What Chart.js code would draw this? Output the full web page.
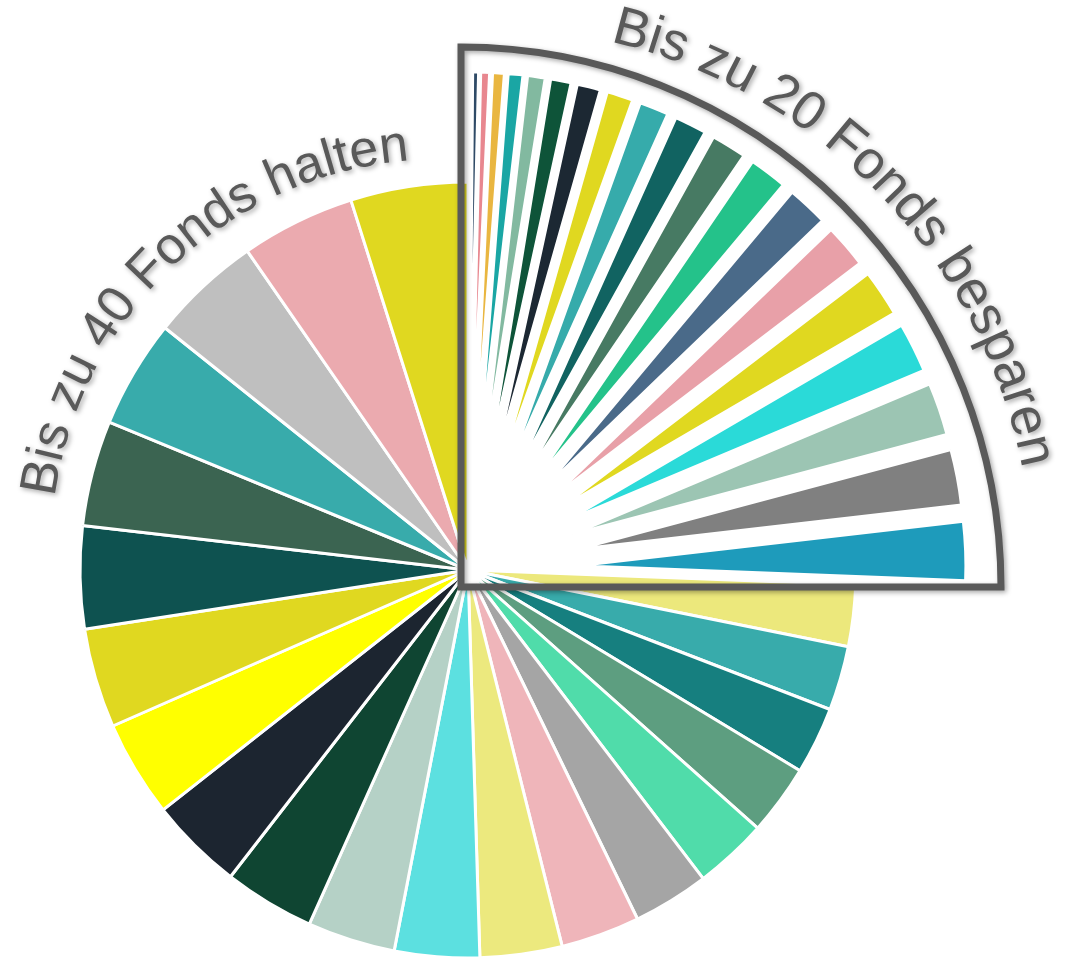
<!DOCTYPE html>
<html lang="de">
<head>
<meta charset="utf-8">
<title>Fonds besparen und halten</title>
<script src="https://cdn.jsdelivr.net/npm/chart.js@4.4.1/dist/chart.umd.min.js"></script>
<style>
  html, body { margin: 0; padding: 0; background: #fff; }
  #wrap { width: 1066px; height: 959px; position: relative; }
</style>
</head>
<body>
<div id="wrap"><canvas id="chart"></canvas></div>
<script>
// besparte Fonds: oberes rechtes Viertel, im Uhrzeigersinn ab 12 Uhr
const sparFonds = [1, 2, 3, 4, 5, 6, 7, 8, 9, 10, 11, 12, 13, 14, 15, 16, 17, 18, 19, 20];
const sparFarben = ['#1c2833', '#2f4a66', '#e8878f', '#e9b640', '#1aa6a4', '#82b9a0', '#0e5439',
  '#1c2833', '#e0d820', '#36abab', '#116361', '#477a63', '#24c28a', '#4a6a89', '#e8a0a8',
  '#e0d820', '#2adad8', '#9cc5b3', '#808080', '#1e9bbb'];

// gehaltene Fonds: ab 3 Uhr weiter im Uhrzeigersinn
const haltFonds = [21, 22, 23, 24, 25, 26, 27, 28, 29, 30, 31, 32, 33, 34, 35, 36, 37, 38, 39, 40];
const haltFarben = ['#ece87c', '#38abab', '#167f7f', '#5d9e80', '#50dcaa', '#a5a5a5', '#efb5ba',
  '#ece97e', '#5ce0e0', '#b5d1c6', '#0f4532', '#1c2530', '#ffff00', '#e0d820', '#0e5250',
  '#3b6451', '#38abab', '#bfbfbf', '#ebaaaf', '#e0d820'];

const titelSpar = 'Bis zu 20 Fonds besparen';
const titelHalt = 'Bis zu 40 Fonds halten';

const werte = sparFonds.concat(haltFonds);
const farben = sparFarben.concat(haltFarben);
const labels = werte.map((v, i) => 'Fonds ' + (i + 1));

// die besparten Stuecke nach aussen ruecken
const explodePlugin = {
    id: 'explode',
    afterDatasetUpdate(chart, args) {
        const arcs = chart.getDatasetMeta(args.index).data;
        for (let i = 0; i < sparFonds.length; i++) {
            const arc = arcs[i];
            const mid = (arc.startAngle + arc.endAngle) / 2;
            arc.x += Math.cos(mid) * 110;
            arc.y += Math.sin(mid) * 110;
        }
    }
};

function arcText(ctx, text, cx, cy, r, midDeg) {
    let total = 0;
    for (const ch of text) total += ctx.measureText(ch).width;
    let a = midDeg * Math.PI / 180 - total / r / 2;
    for (const ch of text) {
        const w = ctx.measureText(ch).width;
        const ang = a + w / 2 / r;
        ctx.save();
        ctx.translate(cx + r * Math.cos(ang), cy + r * Math.sin(ang));
        ctx.rotate(ang + Math.PI / 2);
        ctx.fillText(ch, 0, 0);
        ctx.restore();
        a += w / r;
    }
}

const decoPlugin = {
    id: 'deco',
    afterDraw(chart) {
        const ctx = chart.ctx;
        const area = chart.chartArea;
        const cx = (area.left + area.right) / 2;
        const cy = (area.top + area.bottom) / 2;

        ctx.save();
        ctx.shadowColor = 'rgba(0, 0, 0, 0.35)';
        ctx.shadowBlur = 5;
        ctx.shadowOffsetX = 2;
        ctx.shadowOffsetY = 2;

        // Rahmen um das besparte Viertel
        const fx = cx - 7, fy = cy + 17, fr = 540;
        ctx.strokeStyle = '#595959';
        ctx.lineWidth = 7;
        ctx.lineJoin = 'miter';
        ctx.beginPath();
        ctx.moveTo(fx, fy - fr);
        ctx.lineTo(fx, fy);
        ctx.lineTo(fx + fr, fy);
        ctx.arc(fx, fy, fr, 0, -Math.PI / 2, true);
        ctx.closePath();
        ctx.stroke();

        ctx.fillStyle = '#595959';
        ctx.textAlign = 'center';
        ctx.textBaseline = 'alphabetic';
        ctx.font = '54px "Liberation Sans", Arial, sans-serif';
        arcText(ctx, titelSpar, cx + 17, cy + 5, 548, -44);
        ctx.font = '52px "Liberation Sans", Arial, sans-serif';
        arcText(ctx, titelHalt, cx - 26, cy - 20, 391, -133.5);
        ctx.restore();
    }
};

new Chart(document.getElementById('chart').getContext('2d'), {
    type: 'pie',
    data: {
        labels: labels,
        datasets: [{
            data: werte,
            backgroundColor: farben,
            borderColor: '#ffffff',
            borderWidth: 3,
            radius: 388
        }]
    },
    options: {
        responsive: true,
        maintainAspectRatio: false,
        animation: false,
        events: [],
        layout: {
            padding: { left: 0, right: 130, top: 181, bottom: 0 }
        },
        plugins: {
            legend: { display: false },
            tooltip: { enabled: false }
        }
    },
    plugins: [explodePlugin, decoPlugin]
});
</script>
</body>
</html>
